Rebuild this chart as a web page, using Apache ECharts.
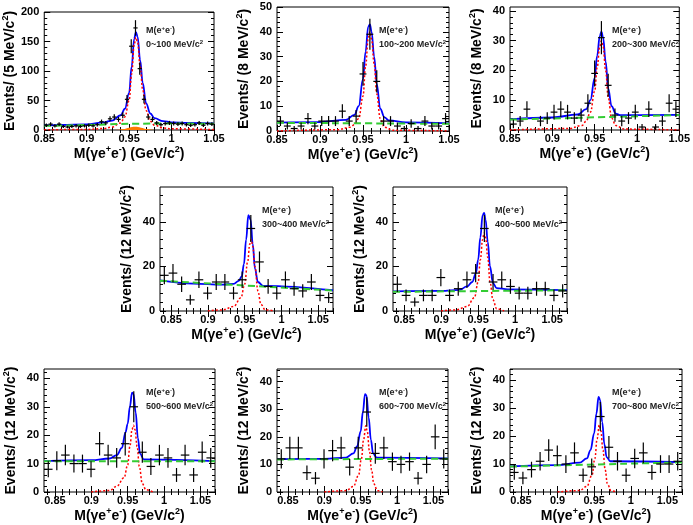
<!DOCTYPE html>
<html>
<head>
<meta charset="utf-8">
<script src="https://cdn.jsdelivr.net/npm/echarts@6/dist/echarts.min.js"></script>
<style>
  html, body { margin: 0; padding: 0; background: #fff; }
  #main { width: 693px; height: 525px; }
</style>
</head>
<body>
<div id="main"></div>
<script>
// event counts per bin, one array per M(e+e-) slice
var counts1 = [8, 10, 7, 10, 6, 5, 6, 7, 6, 7, 8, 7, 9, 14, 12, 19, 22, 18, 25, 52,
               142, 173, 104, 52, 22, 18, 12, 9, 11, 12, 11, 10, 11, 9, 8, 9, 12, 8, 11, 10];
var counts2 = [4, 2, 1, 2, 5, 2, 4, 4, 4, 8, 4, 6, 23, 39, 20, 4, 4, 2, 1, 3, 1, 4, 2, 2, 5];
var counts3 = [2, 3, 7, 0, 3, 4, 6, 7, 6, 4, 5, 9, 19, 31, 15, 5, 3, 4, 6, 1, 7, 1, 3, 9, 7];
var counts4 = [16, 17, 12, 5, 14, 8, 13, 13, 8, 14, 37, 22, 11, 8, 14, 10, 9, 13, 7, 6];
var counts5 = [12, 7, 4, 7, 7, 15, 7, 10, 14, 17, 37, 13, 14, 11, 8, 8, 10, 10, 7, 9];
var counts6 = [8, 11, 13, 10, 10, 8, 17, 13, 12, 17, 30, 14, 9, 13, 12, 6, 13, 6, 14, 12];
var counts7 = [12, 16, 16, 7, 5, 12, 15, 16, 9, 16, 29, 14, 16, 11, 10, 11, 5, 10, 20, 12];
var counts8 = [7, 5, 8, 11, 15, 13, 10, 14, 6, 9, 27, 16, 11, 6, 12, 14, 7, 10, 10, 11];

// fit curves: total (blue), signal (red), background (green)
var tot1 = [[0.85, 8], [0.87, 8.5], [0.9, 9.5], [0.92, 13], [0.93, 16], [0.94, 25], [0.945, 36], [0.95, 63],
            [0.953, 108], [0.956, 155], [0.958, 166], [0.96, 158], [0.963, 118], [0.966, 80], [0.97, 45],
            [0.975, 28], [0.98, 20], [0.99, 15], [1.0, 13], [1.02, 12], [1.05, 11]];
var sig1 = [[0.85, 0.3], [0.9, 1], [0.92, 2.5], [0.93, 5], [0.94, 12], [0.945, 22], [0.95, 50], [0.953, 95],
            [0.956, 145], [0.958, 157], [0.96, 148], [0.963, 108], [0.966, 68], [0.97, 33], [0.975, 15],
            [0.98, 8], [0.99, 3.5], [1.0, 2], [1.05, 0.6]];
var bkg1 = [[0.85, 7], [0.9, 8.5], [0.95, 10.5], [1.0, 11], [1.05, 10.5]];
var peak1 = [[0.935, 0], [0.943, 1.5], [0.95, 4], [0.957, 5.5], [0.964, 4], [0.971, 1.5], [0.98, 0]];

var tot2 = [[0.85, 3.4], [0.9, 3.6], [0.93, 4.5], [0.94, 6.5], [0.945, 10], [0.95, 21], [0.953, 32], [0.956, 42],
            [0.958, 43], [0.96, 40], [0.963, 30], [0.966, 19], [0.97, 9], [0.975, 5.5], [0.98, 4.3], [1.0, 3.5], [1.05, 3.1]];
var sig2 = [[0.85, 0], [0.92, 0.5], [0.935, 1.5], [0.94, 2.5], [0.945, 5], [0.95, 14], [0.953, 26], [0.956, 37],
            [0.958, 40], [0.96, 37], [0.963, 27], [0.966, 15], [0.97, 5], [0.975, 1.5], [0.985, 0.3], [1.05, 0]];
var bkg2 = [[0.85, 3.3], [1.05, 2.9]];

var tot3 = [[0.85, 3.6], [0.9, 4.2], [0.93, 5.2], [0.94, 7], [0.945, 10], [0.95, 17.5], [0.953, 25], [0.956, 31.5],
            [0.958, 33], [0.96, 31], [0.963, 23], [0.966, 14], [0.97, 8], [0.975, 5.5], [0.98, 5], [1.05, 5.1]];
var sig3 = [[0.85, 0], [0.92, 0.5], [0.935, 1.5], [0.94, 3], [0.945, 6], [0.95, 13], [0.953, 21], [0.956, 28],
            [0.958, 30], [0.96, 28], [0.963, 20], [0.966, 11], [0.97, 4], [0.975, 1.5], [0.985, 0.3], [1.05, 0]];
var bkg3 = [[0.85, 3.5], [1.05, 5]];

var tot4 = [[0.835, 13.7], [0.88, 12.3], [0.92, 11.8], [0.935, 12.2], [0.942, 13.5], [0.946, 15.5], [0.949, 21],
            [0.952, 32], [0.955, 43], [0.958, 41], [0.961, 30], [0.964, 19], [0.968, 13], [0.975, 11.3], [1.07, 9.3]];
var sig4 = [[0.9, 0], [0.92, 0.5], [0.935, 2], [0.945, 6], [0.95, 12], [0.954, 22], [0.957, 30], [0.959, 32],
            [0.961, 29], [0.964, 20], [0.968, 9], [0.972, 3], [0.978, 0.5], [0.99, 0]];
var bkg4 = [[0.835, 13.6], [1.07, 9.2]];

var tot5 = [[0.835, 8.8], [0.9, 9], [0.925, 9.5], [0.935, 11], [0.942, 13], [0.947, 17], [0.95, 23], [0.953, 33],
            [0.956, 43], [0.958, 44], [0.96, 41], [0.963, 31], [0.966, 20], [0.97, 12.5], [0.975, 10.3], [0.99, 9.7], [1.07, 9.4]];
var sig5 = [[0.9, 0], [0.92, 0.5], [0.935, 2], [0.945, 6], [0.95, 13], [0.953, 23], [0.956, 32], [0.958, 35],
            [0.96, 33], [0.963, 24], [0.966, 13], [0.97, 5], [0.975, 1], [0.985, 0]];
var bkg5 = [[0.835, 8.6], [1.07, 9.3]];

var tot6 = [[0.835, 10.9], [0.9, 11.2], [0.925, 11.8], [0.935, 13], [0.942, 15.5], [0.947, 21], [0.95, 24],
            [0.953, 30], [0.956, 35], [0.958, 34.5], [0.961, 28], [0.964, 19], [0.967, 13.5], [0.972, 11.5], [1.07, 10.9]];
var sig6 = [[0.9, 0], [0.925, 0.5], [0.935, 2], [0.945, 5], [0.95, 9.5], [0.953, 16], [0.956, 22], [0.958, 23.5],
            [0.96, 22], [0.963, 16], [0.966, 9], [0.97, 3], [0.975, 0.8], [0.985, 0]];
var bkg6 = [[0.835, 10.8], [1.07, 10.8]];

var tot7 = [[0.835, 11.9], [0.9, 12], [0.93, 12.5], [0.94, 14], [0.945, 16.5], [0.95, 22], [0.953, 29], [0.956, 35.5],
            [0.958, 35], [0.961, 27], [0.964, 19], [0.967, 14], [0.972, 12.5], [1.07, 12.2]];
var sig7 = [[0.9, 0], [0.93, 0.5], [0.94, 2], [0.947, 6], [0.951, 12], [0.954, 19], [0.957, 24], [0.959, 22],
            [0.962, 15], [0.965, 8], [0.968, 3], [0.973, 0.5], [0.98, 0]];
var bkg7 = [[0.835, 11.8], [1.07, 12.1]];

var tot8 = [[0.835, 9.2], [0.9, 9.6], [0.93, 10.5], [0.94, 12], [0.945, 15], [0.95, 21], [0.953, 28], [0.956, 34],
            [0.958, 33], [0.961, 25], [0.964, 17], [0.967, 12.5], [0.972, 11], [1.07, 10.7]];
var sig8 = [[0.9, 0], [0.93, 0.5], [0.94, 2], [0.947, 6], [0.951, 12], [0.954, 19], [0.957, 24], [0.959, 22],
            [0.962, 15], [0.965, 8], [0.968, 3], [0.973, 0.5], [0.98, 0]];
var bkg8 = [[0.835, 9.1], [1.07, 10.6]];

var xTicks = [0.85, 0.9, 0.95, 1, 1.05];
var yTicks1 = [0, 50, 100, 150, 200];
var yTicks2 = [0, 10, 20, 30, 40, 50];
var yTicks3 = [0, 10, 20, 30, 40];
var yTicks4 = [0, 20, 40];
var slices = ['0~100', '100~200', '200~300', '300~400', '400~500', '500~600', '600~700', '700~800'];
var binMeV = ['5', '8', '8', '12', '12', '12', '12', '12'];

var F = '"Liberation Sans", Arial, Helvetica, sans-serif';

var panels = [
  { counts: counts1, start: 0.85, bw: 0.005, xmin: 0.85, xmax: 1.05, ymax: 200, yTicks: yTicks1, yMinor: 10,
    tot: tot1, sig: sig1, bkg: bkg1, peak: peak1, grid: { left: 44, top: 12, width: 170, height: 118 } },
  { counts: counts2, start: 0.85, bw: 0.008, xmin: 0.85, xmax: 1.05, ymax: 50, yTicks: yTicks2, yMinor: 2,
    tot: tot2, sig: sig2, bkg: bkg2, grid: { left: 277, top: 7, width: 172, height: 124 } },
  { counts: counts3, start: 0.85, bw: 0.008, xmin: 0.85, xmax: 1.05, ymax: 41.3, yTicks: yTicks3, yMinor: 2,
    tot: tot3, sig: sig3, bkg: bkg3, grid: { left: 510, top: 7, width: 171, height: 123 } },
  { counts: counts4, start: 0.835, bw: 0.01175, xmin: 0.835, xmax: 1.07, ymax: 55.6, yTicks: yTicks4, yMinor: 4,
    tot: tot4, sig: sig4, bkg: bkg4, grid: { left: 160, top: 187, width: 173, height: 124 } },
  { counts: counts5, start: 0.835, bw: 0.01175, xmin: 0.835, xmax: 1.07, ymax: 55.6, yTicks: yTicks4, yMinor: 4,
    tot: tot5, sig: sig5, bkg: bkg5, grid: { left: 393, top: 187, width: 174, height: 124 } },
  { counts: counts6, start: 0.835, bw: 0.01175, xmin: 0.835, xmax: 1.07, ymax: 43.3, yTicks: yTicks3, yMinor: 2,
    tot: tot6, sig: sig6, bkg: bkg6, grid: { left: 44, top: 369, width: 171, height: 123 } },
  { counts: counts7, start: 0.835, bw: 0.01175, xmin: 0.835, xmax: 1.07, ymax: 44.6, yTicks: yTicks3, yMinor: 2,
    tot: tot7, sig: sig7, bkg: bkg7, grid: { left: 277, top: 369, width: 171, height: 123 } },
  { counts: counts8, start: 0.835, bw: 0.01175, xmin: 0.835, xmax: 1.07, ymax: 44, yTicks: yTicks3, yMinor: 2,
    tot: tot8, sig: sig8, bkg: bkg8, grid: { left: 510, top: 369, width: 172, height: 123 } }
];

var nameRich = {
  n: { fontSize: 14, fontWeight: 'bold', fontFamily: F, color: '#000', lineHeight: 18 },
  s: { fontSize: 9, fontWeight: 'bold', fontFamily: F, color: '#000', lineHeight: 7, verticalAlign: 'top' }
};

function steps(min, max, step) {
  var out = [];
  var v = Math.ceil(min / step - 1e-9) * step;
  for (; v <= max + 1e-9; v += step) out.push(+v.toFixed(4));
  return out;
}

var grids = [], xAxes = [], yAxes = [], series = [], graphics = [];

panels.forEach(function (p, i) {
  grids.push(Object.assign({ show: true, borderColor: '#000', borderWidth: 1, containLabel: false }, p.grid));

  var xMinor = steps(p.xmin, p.xmax, 0.01);
  var yMinor = steps(0, p.ymax, p.yMinor);
  // main, minor, mirrored main, mirrored minor
  [['bottom', xTicks, 6, true], ['bottom', xMinor, 3, false], ['top', xTicks, 6, false], ['top', xMinor, 3, false]]
    .forEach(function (a, k) {
      xAxes.push({
        type: 'value', gridIndex: i, min: p.xmin, max: p.xmax, position: a[0],
        axisLine: { show: false }, splitLine: { show: false },
        axisTick: { show: true, inside: true, length: a[2], customValues: a[1], lineStyle: { color: '#000', width: 1 } },
        axisLabel: { show: a[3], customValues: xTicks, margin: 3, fontSize: 11, fontWeight: 'bold', fontFamily: F, color: '#000' },
        name: k === 0 ? '{n|M(\u03b3e}{s|+}{n|e}{s|-}{n|) (GeV/c}{s|2}{n|)}' : '',
        nameLocation: 'middle', nameGap: 15,
        nameTextStyle: { rich: nameRich }
      });
    });
  [['left', p.yTicks, 6, true], ['left', yMinor, 3, false], ['right', p.yTicks, 6, false], ['right', yMinor, 3, false]]
    .forEach(function (a, k) {
      yAxes.push({
        type: 'value', gridIndex: i, min: 0, max: p.ymax, position: a[0],
        axisLine: { show: false }, splitLine: { show: false },
        axisTick: { show: true, inside: true, length: a[2], customValues: a[1], lineStyle: { color: '#000', width: 1 } },
        axisLabel: { show: a[3], customValues: p.yTicks, margin: 5, fontSize: 11, fontWeight: 'bold', fontFamily: F, color: '#000' },
        name: k === 0 ? '{n|Events/ (' + binMeV[i] + ' MeV/c}{s|2}{n|)}' : '',
        nameLocation: 'middle', nameGap: 24,
        nameTextStyle: { rich: nameRich }
      });
    });

  var ax = i * 4;
  if (p.peak) {
    series.push({
      type: 'line', xAxisIndex: ax, yAxisIndex: ax, data: p.peak, showSymbol: false, smooth: 0.4, z: 1,
      lineStyle: { width: 0 }, areaStyle: { color: '#ff7a00', opacity: 1 }, silent: true
    });
  }
  series.push({
    type: 'line', xAxisIndex: ax, yAxisIndex: ax, data: p.tot, showSymbol: false, smooth: 0.4, smoothMonotone: 'x', z: 2,
    lineStyle: { color: '#0000ff', width: 1.8 }, silent: true
  });
  series.push({
    type: 'line', xAxisIndex: ax, yAxisIndex: ax, data: p.sig, showSymbol: false, smooth: 0.4, smoothMonotone: 'x', z: 3,
    lineStyle: { color: '#ff0000', width: 1.5, type: [2, 2] }, silent: true
  });
  series.push({
    type: 'line', xAxisIndex: ax, yAxisIndex: ax, data: p.bkg, showSymbol: false, smooth: 0.3, z: 4,
    lineStyle: { color: '#33cc33', width: 2, type: [7, 4] }, silent: true
  });

  var bw = p.bw;
  var pts = [];
  p.counts.forEach(function (c, j) {
    if (c > 0) pts.push([p.start + bw * (j + 0.5), c, Math.sqrt(c)]);
  });
  series.push({
    type: 'custom', xAxisIndex: ax, yAxisIndex: ax, clip: true, z: 5, silent: true,
    encode: { x: 0, y: 1 }, data: pts,
    renderItem: function (params, api) {
      var x = api.value(0), y = api.value(1), e = api.value(2);
      var lo = api.coord([x, y - e]), hi = api.coord([x, y + e]);
      var l = api.coord([x - bw / 2, y]), r = api.coord([x + bw / 2, y]);
      var st = { stroke: '#000', lineWidth: 1.2 };
      return {
        type: 'group', children: [
          { type: 'line', shape: { x1: lo[0], y1: lo[1], x2: hi[0], y2: hi[1] }, style: st },
          { type: 'line', shape: { x1: l[0], y1: l[1], x2: r[0], y2: r[1] }, style: st }
        ]
      };
    }
  });

  // slice label
  var tRich = {
    a: { fontSize: 9, fontWeight: 'bold', fontFamily: F, fill: '#222', lineHeight: 11 },
    b: { fontSize: 6, fontWeight: 'bold', fontFamily: F, fill: '#222', lineHeight: 5, verticalAlign: 'top' }
  };
  graphics.push({
    type: 'text', left: p.grid.left + 102, top: p.grid.top + (i === 0 ? 13 : 18),
    style: { text: '{a|M(e}{b|+}{a|e}{b|-}{a|)}', rich: tRich }, z: 10
  });
  graphics.push({
    type: 'text', left: p.grid.left + 102, top: p.grid.top + (i === 0 ? 27 : 32),
    style: { text: '{a|' + slices[i] + ' MeV/c}{b|2}', rich: tRich }, z: 10
  });
});

var chart = echarts.init(document.getElementById('main'));
chart.setOption({
  animation: false,
  backgroundColor: '#fff',
  grid: grids,
  xAxis: xAxes,
  yAxis: yAxes,
  series: series,
  graphic: graphics
});
</script>
</body>
</html>
